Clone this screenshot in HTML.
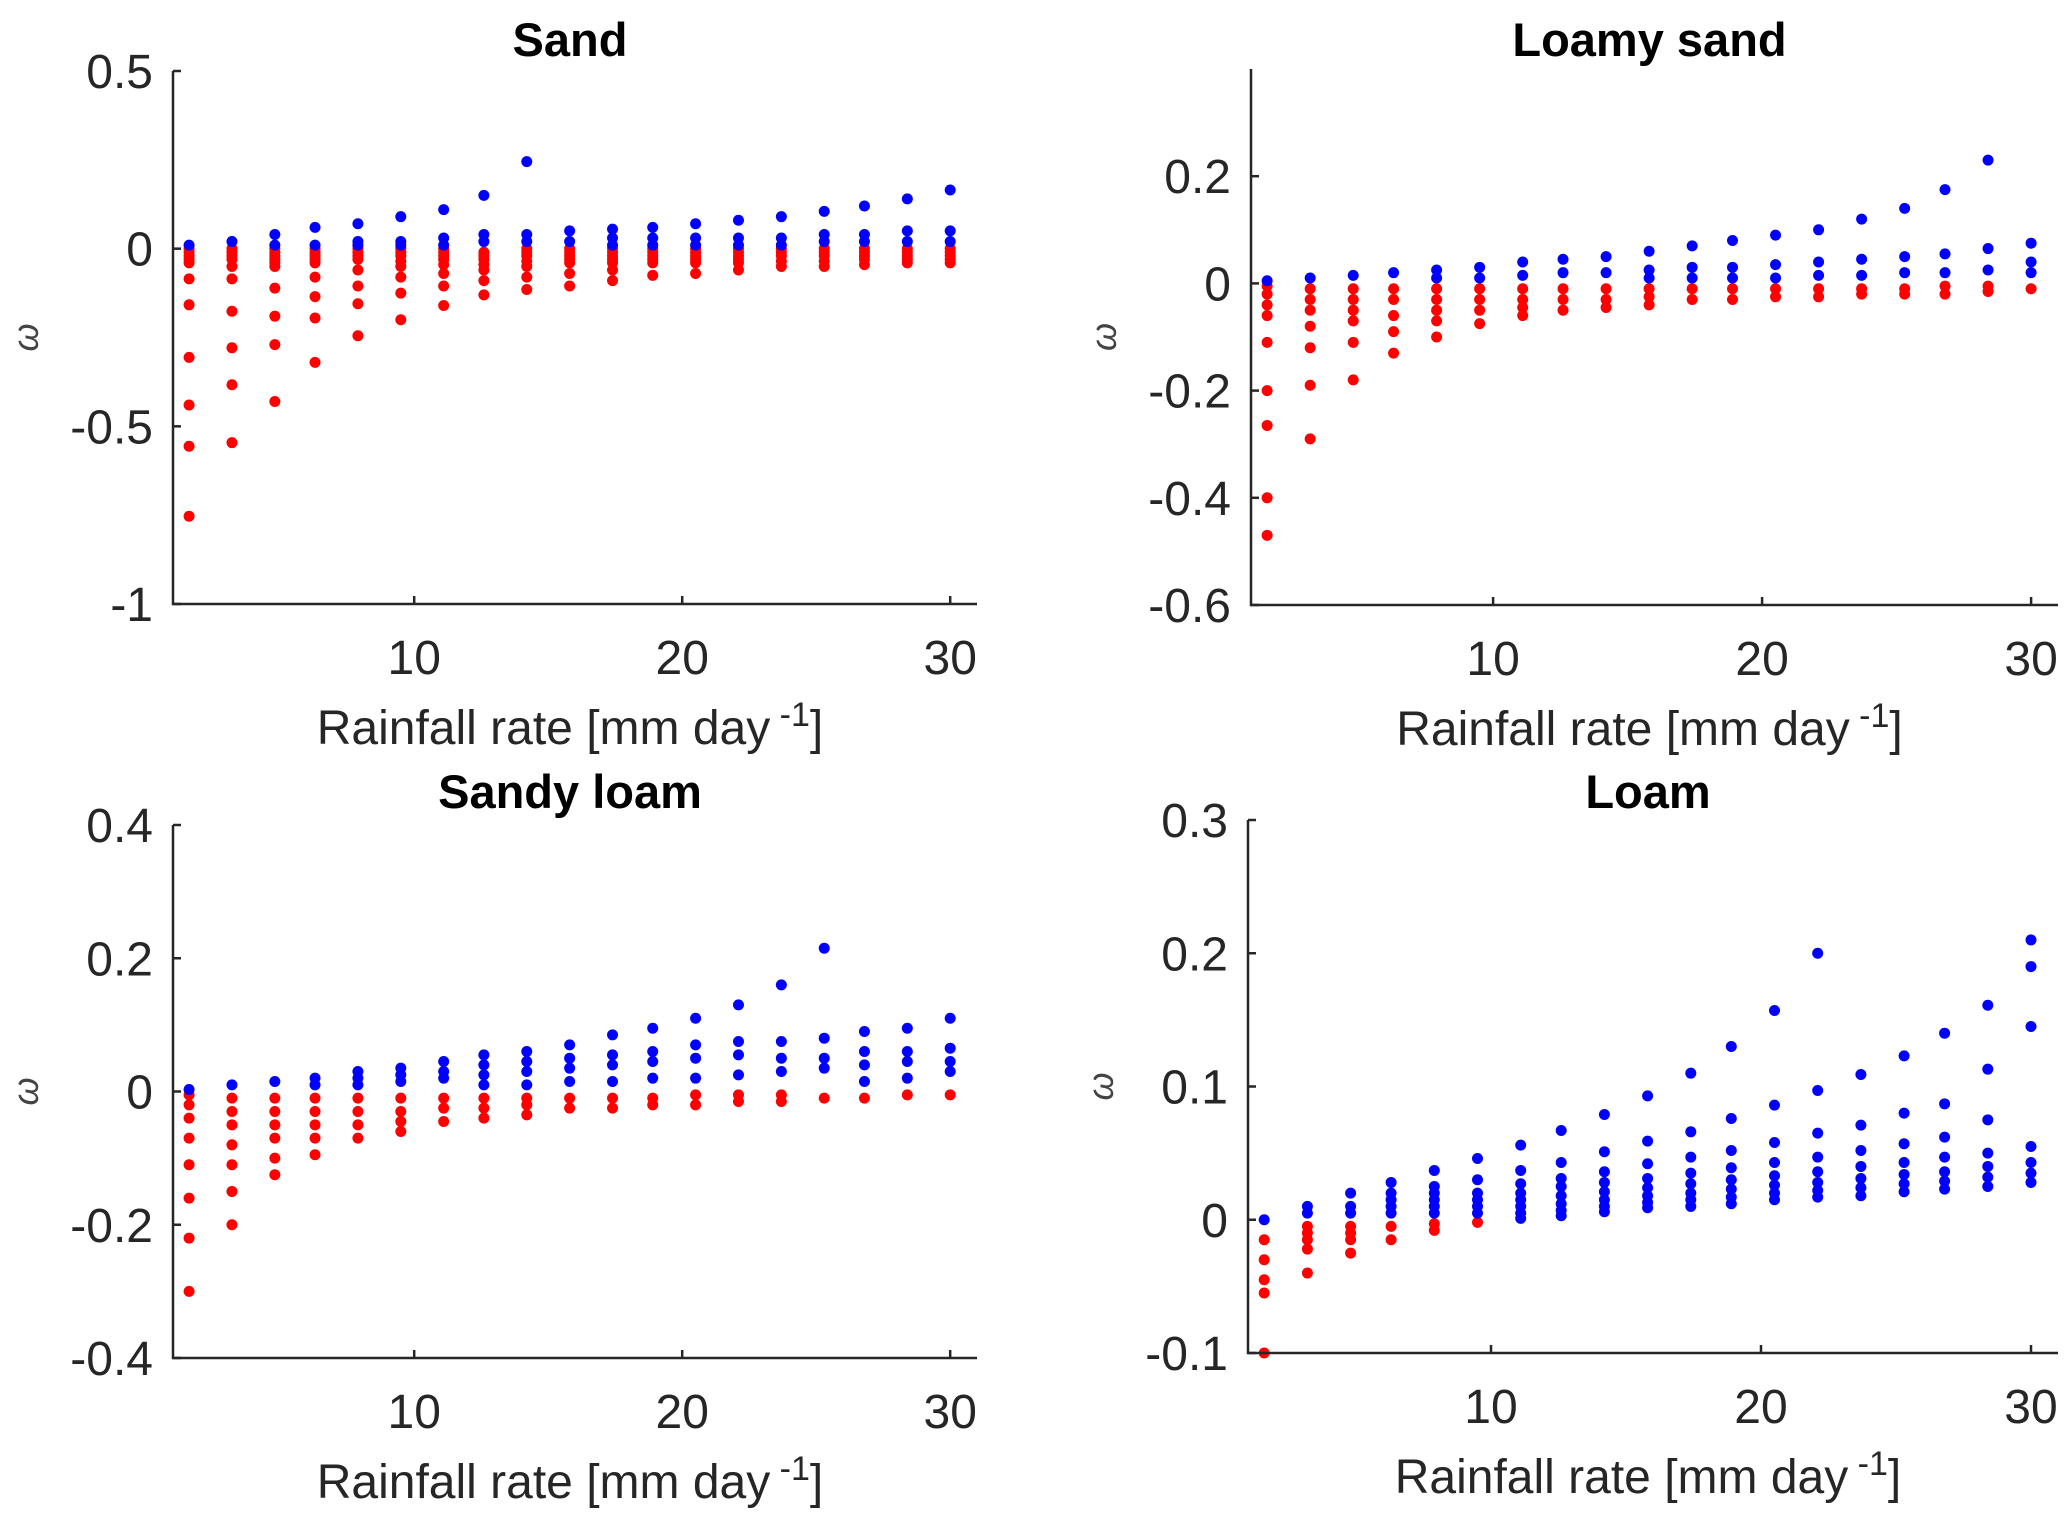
<!DOCTYPE html>
<html><head><meta charset="utf-8"><style>
html,body{margin:0;padding:0;background:#fff;}
svg{display:block;font-family:"Liberation Sans",Arial,sans-serif;}
</style></head><body>
<svg id="fig" width="2067" height="1517" viewBox="0 0 2067 1517" xmlns="http://www.w3.org/2000/svg"></svg>
<script>
const xCats = [1.6,3.2,4.8,6.3,7.9,9.5,11.1,12.6,14.2,15.8,17.4,18.9,20.5,22.1,23.7,25.3,26.8,28.4,30];
const xTicks = [10,20,30];

const sandBlue = [[0.01],[0.02],[0.04,0.01],[0.06,0.01],[0.07,0.02,0.01],[0.09,0.02,0.01],[0.11,0.03,0.01],[0.15,0.04,0.02],[0.245,0.04,0.02],[0.05,0.02],[0.055,0.03,0.01],[0.06,0.03,0.01],[0.07,0.03,0.01],[0.08,0.03,0.01],[0.09,0.03,0.01],[0.105,0.04,0.02],[0.12,0.04,0.02],[0.14,0.05,0.02],[0.165,0.05,0.02]];
const sandRed = [[0,-0.01,-0.02,-0.03,-0.04,-0.085,-0.158,-0.306,-0.44,-0.556,-0.753],[0,-0.01,-0.02,-0.03,-0.05,-0.085,-0.176,-0.279,-0.383,-0.546],[0,-0.01,-0.02,-0.03,-0.04,-0.05,-0.111,-0.19,-0.27,-0.43],[0,-0.01,-0.02,-0.03,-0.04,-0.08,-0.135,-0.195,-0.32],[0,-0.01,-0.02,-0.03,-0.06,-0.105,-0.155,-0.245],[0,-0.01,-0.02,-0.035,-0.05,-0.08,-0.125,-0.2],[0,-0.01,-0.02,-0.03,-0.045,-0.07,-0.105,-0.16],[-0.01,-0.02,-0.03,-0.045,-0.06,-0.09,-0.13],[0,-0.01,-0.02,-0.035,-0.05,-0.08,-0.115],[0,-0.01,-0.02,-0.03,-0.04,-0.07,-0.105],[0,-0.01,-0.02,-0.03,-0.04,-0.06,-0.09],[0,-0.01,-0.02,-0.03,-0.04,-0.075],[0,-0.01,-0.02,-0.03,-0.04,-0.07],[0,-0.01,-0.02,-0.03,-0.04,-0.06],[0,-0.01,-0.02,-0.035,-0.05],[0,-0.01,-0.02,-0.035,-0.05],[0,-0.01,-0.02,-0.03,-0.045],[0,-0.01,-0.02,-0.03,-0.04],[0,-0.01,-0.02,-0.03,-0.04]];
const sandTicks = [-1,-0.5,0,0.5];
const sandTickLabels = ["-1","-0.5","0","0.5"];

const lsBlue = [[0.005],[0.01],[0.015],[0.02],[0.025,0.01],[0.03,0.01],[0.04,0.015],[0.045,0.02],[0.05,0.02],[0.06,0.025,0.01],[0.07,0.03,0.01],[0.08,0.03,0.01],[0.09,0.035,0.01],[0.1,0.04,0.015],[0.12,0.045,0.015],[0.14,0.05,0.02],[0.175,0.055,0.02],[0.23,0.065,0.025],[0.075,0.04,0.02]];
const lsRed = [[-0.005,-0.02,-0.04,-0.06,-0.11,-0.2,-0.265,-0.4,-0.47],[-0.01,-0.03,-0.05,-0.08,-0.12,-0.19,-0.29],[-0.01,-0.03,-0.05,-0.07,-0.11,-0.18],[-0.01,-0.03,-0.06,-0.09,-0.13],[-0.01,-0.03,-0.05,-0.07,-0.1],[-0.01,-0.03,-0.05,-0.075],[-0.01,-0.03,-0.045,-0.06],[-0.01,-0.03,-0.05],[-0.01,-0.03,-0.045],[-0.01,-0.025,-0.04],[-0.01,-0.03],[-0.01,-0.03],[-0.01,-0.025],[-0.01,-0.025],[-0.01,-0.02],[-0.01,-0.02],[-0.005,-0.02],[-0.005,-0.015],[-0.01]];
const lsTicks = [-0.6,-0.4,-0.2,0,0.2];
const lsTickLabels = ["-0.6","-0.4","-0.2","0","0.2"];

const slBlue = [[0.003],[0.01],[0.015],[0.02,0.01],[0.03,0.02,0.01],[0.035,0.025,0.015],[0.045,0.03,0.02],[0.055,0.04,0.025,0.01],[0.06,0.045,0.03,0.01],[0.07,0.05,0.035,0.015],[0.085,0.055,0.04,0.015],[0.095,0.06,0.045,0.02],[0.11,0.07,0.05,0.02],[0.13,0.075,0.055,0.025],[0.16,0.075,0.05,0.03],[0.215,0.08,0.05,0.035],[0.09,0.06,0.04,0.015],[0.095,0.06,0.045,0.02],[0.11,0.065,0.045,0.03]];
const slRed = [[-0.005,-0.02,-0.04,-0.07,-0.11,-0.16,-0.22,-0.3],[-0.01,-0.03,-0.05,-0.08,-0.11,-0.15,-0.2],[-0.01,-0.03,-0.05,-0.07,-0.1,-0.125],[-0.01,-0.03,-0.05,-0.07,-0.095],[-0.01,-0.03,-0.05,-0.07],[-0.01,-0.03,-0.045,-0.06],[-0.01,-0.025,-0.045],[-0.01,-0.025,-0.04],[-0.01,-0.02,-0.035],[-0.01,-0.025],[-0.01,-0.025],[-0.01,-0.02],[-0.005,-0.02],[-0.005,-0.015],[-0.005,-0.015],[-0.01],[-0.01],[-0.005],[-0.005]];
const slTicks = [-0.4,-0.2,0,0.2,0.4];
const slTickLabels = ["-0.4","-0.2","0","0.2","0.4"];

const loamBlue = [[0],[0.01,0.005],[0.02,0.01,0.005],[0.028,0.02,0.015,0.01,0.005],[0.037,0.025,0.02,0.015,0.01,0.005],[0.046,0.03,0.02,0.015,0.01,0.005],[0.056,0.037,0.027,0.02,0.015,0.01,0.005,0.001],[0.067,0.043,0.031,0.025,0.018,0.012,0.007,0.003],[0.079,0.051,0.036,0.028,0.021,0.015,0.01,0.006],[0.093,0.059,0.042,0.031,0.024,0.018,0.013,0.009],[0.11,0.066,0.047,0.035,0.027,0.02,0.015,0.01],[0.13,0.076,0.052,0.039,0.03,0.023,0.017,0.012],[0.157,0.086,0.058,0.043,0.033,0.026,0.02,0.015],[0.2,0.097,0.065,0.047,0.036,0.028,0.022,0.017],[0.109,0.071,0.052,0.04,0.031,0.024,0.018],[0.123,0.08,0.057,0.043,0.034,0.027,0.021],[0.14,0.087,0.062,0.047,0.036,0.029,0.023],[0.161,0.113,0.075,0.05,0.04,0.032,0.025],[0.21,0.19,0.145,0.055,0.043,0.035,0.028]];
const loamRed = [[-0.015,-0.03,-0.045,-0.055,-0.1],[-0.005,-0.01,-0.015,-0.022,-0.04],[-0.005,-0.01,-0.015,-0.025],[-0.005,-0.015],[-0.003,-0.008],[-0.002],[],[],[],[],[],[],[],[],[],[],[],[],[]];
const loamTicks = [-0.1,0,0.1,0.2,0.3];
const loamTickLabels = ["-0.1","0","0.1","0.2","0.3"];

const NS='http://www.w3.org/2000/svg';
const svg=document.getElementById('fig');
function mk(tag,attrs,parent){const e=document.createElementNS(NS,tag);for(const k in attrs)e.setAttribute(k,attrs[k]);(parent||svg).appendChild(e);return e;}

function panel(opt){
  const g=mk('g',{});
  
  
  const sx=v=>opt.L+(v-1)*(opt.R-opt.L)/30;
  const sy=v=>opt.B-(v-opt.ymin)*(opt.B-opt.T)/(opt.ymax-opt.ymin);
  const series=[[opt.red,'#ff0000','red'],[opt.blue,'#0000ff','blue']];
  series.forEach(([arr,col,nm])=>{
    arr.forEach((vals,i)=>{vals.forEach(v=>{
      const c=mk('circle',{cx:sx(xCats[i]),cy:sy(v),r:5.5,fill:col},g);
      
      
    });});
  });
  const ax=mk('path',{d:`M${opt.L},${opt.T}V${opt.B}H${opt.R}`,stroke:'#262626','stroke-width':2.5,fill:'none'},g);
  
  
  opt.yticks.forEach((v,i)=>{
    const y=sy(v);
    mk('line',{x1:opt.L,x2:opt.L+8,y1:y,y2:y,stroke:'#262626','stroke-width':2.5},g);
    const t=mk('text',{x:opt.L-20,y:y+17,'text-anchor':'end','font-size':48,fill:'#262626'},g);
    t.textContent=opt.ylabels[i];
    
    
  });
  xTicks.forEach(v=>{
    const x=sx(v);
    mk('line',{x1:x,x2:x,y1:opt.B,y2:opt.B-8,stroke:'#262626','stroke-width':2.5},g);
    const t=mk('text',{x:x,y:opt.B+70,'text-anchor':'middle','font-size':48,fill:'#262626'},g);
    t.textContent=v;
    
    
  });
  const tt=mk('text',{x:(opt.L+opt.R)/2-5,y:opt.titleY,'text-anchor':'middle','font-size':47,'font-weight':'bold',fill:'#000'},g);
  tt.textContent=opt.title;
  
  
  const xl=mk('text',{x:(opt.L+opt.R)/2-5,y:opt.B+140,'text-anchor':'middle','font-size':48,fill:'#262626'},g);
  xl.innerHTML='Rainfall rate [mm day<tspan font-size="34" dy="-18"> -1</tspan><tspan dy="18">]</tspan>';
  
  
  const yx=opt.L-135, yy=(opt.T+opt.B)/2;
  const yl=mk('text',{x:yx,y:yy,'text-anchor':'middle','font-size':36,'font-style':'italic',fill:'#444',transform:`rotate(-90 ${yx} ${yy})`},g);
  yl.textContent='ω';
  
  
}
panel({name:'sand-panel',title:'Sand',L:173,R:977,T:71,B:604,ymin:-1,ymax:0.5,yticks:sandTicks,ylabels:sandTickLabels,blue:sandBlue,red:sandRed,titleY:56});
panel({name:'loamy-sand-panel',title:'Loamy sand',L:1251,R:2058,T:69,B:605,ymin:-0.6,ymax:0.4,yticks:lsTicks,ylabels:lsTickLabels,blue:lsBlue,red:lsRed,titleY:56});
panel({name:'sandy-loam-panel',title:'Sandy loam',L:173,R:977,T:825,B:1358,ymin:-0.4,ymax:0.4,yticks:slTicks,ylabels:slTickLabels,blue:slBlue,red:slRed,titleY:808});
panel({name:'loam-panel',title:'Loam',L:1248,R:2058,T:820,B:1353,ymin:-0.1,ymax:0.3,yticks:loamTicks,ylabels:loamTickLabels,blue:loamBlue,red:loamRed,titleY:808});
</script>
</body></html>
